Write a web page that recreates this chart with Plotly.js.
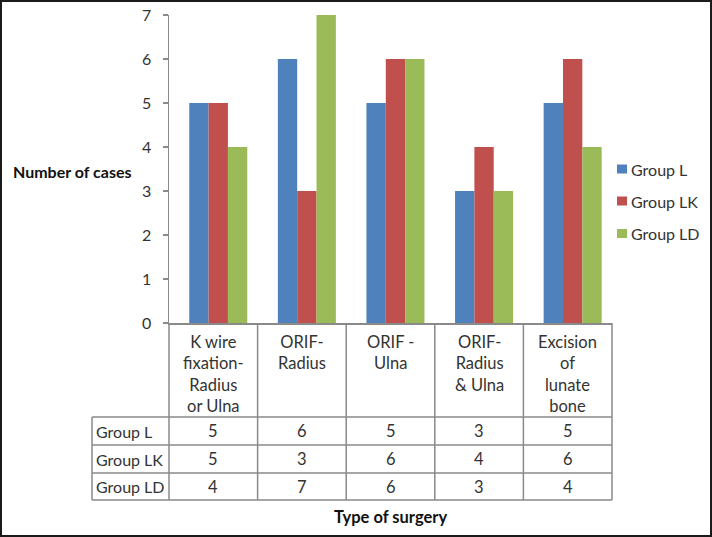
<!DOCTYPE html>
<html>
<head>
<meta charset="utf-8">
<script src="https://cdn.plot.ly/plotly-3.0.1.min.js"></script>
<style>
  html, body { margin: 0; padding: 0; background: #fff; }
  #chart { width: 712px; height: 537px; }
</style>
</head>
<body>
<div id="chart"></div>
<script>
// surgery type vs number of cases, with data table underneath
const surgeries = [
  "K wire<br>fixation-<br>Radius<br>or Ulna",
  "ORIF-<br>Radius",
  "ORIF -<br>Ulna",
  "ORIF-<br>Radius<br>& Ulna",
  "Excision<br>of<br>lunate<br>bone"
];
const groupNames = ["Group L", "Group LK", "Group LD"];
const groupL = [5, 6, 5, 3, 5];
const groupLK = [5, 3, 6, 4, 6];
const groupLD = [4, 7, 6, 3, 4];
const yTicks = [0, 1, 2, 3, 4, 5, 6, 7];

const colors = ["#4F81BD", "#C0504D", "#9BBB59"];
const series = [groupL, groupLK, groupLD];

// pixel helpers for the table drawn below the plot area
const W = 712, H = 537;
const M = { l: 169, r: 100, t: 15, b: 214 };
const plotW = W - M.l - M.r, plotH = H - M.t - M.b;
const px = x => (x - M.l) / plotW;
const py = y => (H - M.b - y) / plotH;

const idx = surgeries.map((_, i) => i);
const traces = series.map((vals, k) => ({
  x: idx,
  y: vals,
  name: groupNames[k],
  type: "bar",
  marker: { color: colors[k] },
  hoverinfo: "y+name",
}));

const lineCol = "#8A8A8A";
const txtCol = "#333333";
const font = "Lato, 'Open Sans', sans-serif";

const shapes = [];
const annotations = [];
const colEdge = i => i / surgeries.length;           // paper x of column edge
const colMid = i => (i + 0.5) / surgeries.length;    // paper x of column centre

const rowTops = [417, 445, 473, 500];
rowTops.forEach(y => {
  shapes.push({ type: "line", xref: "paper", yref: "paper", x0: px(92), x1: 1, y0: py(y), y1: py(y),
    line: { color: lineCol, width: 1.5 } });
});
for (let i = 0; i <= surgeries.length; i++) {
  shapes.push({ type: "line", xref: "paper", yref: "paper", x0: colEdge(i), x1: colEdge(i), y0: 0, y1: py(500),
    line: { color: lineCol, width: 1.5 } });
}
shapes.push({ type: "line", xref: "paper", yref: "paper", x0: px(92), x1: px(92), y0: py(417), y1: py(500),
  line: { color: lineCol, width: 1.5 } });
// outer frame
shapes.push({ type: "rect", xref: "paper", yref: "paper", x0: px(1), x1: px(711), y0: py(1), y1: py(536),
  line: { color: "#1a1a1a", width: 2 } });

// header labels
surgeries.forEach((s, i) => {
  annotations.push({ xref: "paper", yref: "paper", x: colMid(i), y: py(330), yanchor: "top", xanchor: "center",
    text: s, showarrow: false, align: "center", font: { size: 16.5, color: txtCol, family: font } });
});
// table rows
const rowMid = [431, 459, 486.5];
series.forEach((vals, k) => {
  annotations.push({ xref: "paper", yref: "paper", x: px(94), y: py(rowMid[k]), xanchor: "left", yanchor: "middle",
    text: groupNames[k], showarrow: false, font: { size: 16, color: txtCol, family: font } });
  vals.forEach((v, i) => {
    annotations.push({ xref: "paper", yref: "paper", x: colMid(i), y: py(rowMid[k]), xanchor: "center", yanchor: "middle",
      text: String(v), showarrow: false, font: { size: 16.5, color: txtCol, family: font } });
  });
});
// legend (drawn by hand to get Excel-like spacing)
const legY = [169, 201, 233.5];
groupNames.forEach((g, k) => {
  shapes.push({ type: "rect", xref: "paper", yref: "paper", x0: px(617), x1: px(627), y0: py(legY[k] - 4.5), y1: py(legY[k] + 4.5),
    fillcolor: colors[k], line: { width: 0 } });
  annotations.push({ xref: "paper", yref: "paper", x: px(629), y: py(legY[k]), xanchor: "left", yanchor: "middle",
    text: g, showarrow: false, font: { size: 16, color: txtCol, family: font } });
});
// axis titles
annotations.push({ xref: "paper", yref: "paper", x: px(72), y: py(171), xanchor: "center", yanchor: "middle",
  text: "<b>Number of cases</b>", showarrow: false, font: { size: 16, color: "#111", family: font } });
annotations.push({ xref: "paper", yref: "paper", x: px(390), y: py(517), xanchor: "center", yanchor: "middle",
  text: "<b>Type of surgery</b>", showarrow: false, font: { size: 16.5, color: "#111", family: font } });

const layout = {
  width: W,
  height: H,
  margin: M,
  barmode: "group",
  bargap: 0.345,
  bargroupgap: 0,
  paper_bgcolor: "#fff",
  plot_bgcolor: "#fff",
  font: { family: font, color: txtCol },
  showlegend: false,
  xaxis: {
    type: "linear",
    range: [-0.556, 4.444],
    showticklabels: false,
    showgrid: false,
    zeroline: false,
    showline: true,
    linecolor: lineCol,
    linewidth: 1.5,
    ticks: "",
    fixedrange: true,
  },
  yaxis: {
    range: [0, 7],
    tickvals: yTicks,
    showgrid: false,
    zeroline: false,
    showline: true,
    linecolor: lineCol,
    linewidth: 1.5,
    ticks: "outside",
    ticklen: 5,
    tickcolor: lineCol,
    tickwidth: 1.5,
    ticklabelstandoff: 8,
    tickfont: { size: 16, color: txtCol, family: font },
    fixedrange: true,
  },
  shapes: shapes,
  annotations: annotations,
};

Plotly.newPlot("chart", traces, layout, { displayModeBar: false, staticPlot: true });
</script>
</body>
</html>
